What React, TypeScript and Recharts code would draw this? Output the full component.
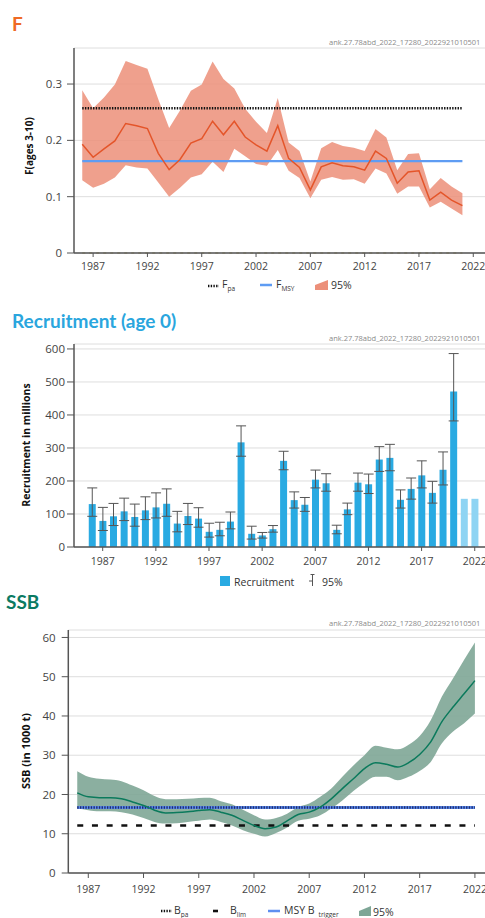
import React from 'react';
import {
  ComposedChart,
  Area,
  Line,
  Bar,
  Cell,
  ErrorBar,
  XAxis,
  YAxis,
  CartesianGrid,
  ReferenceLine,
} from 'recharts';

const FONT = '"Open Sans", "Noto Sans", sans-serif';
const TITLE_FONT = 'Lato, "Open Sans", sans-serif';
const WATERMARK = 'ank.27.78abd_2022_17280_2022921010501';

const xTicks = [1987, 1992, 1997, 2002, 2007, 2012, 2017, 2022];

// ---------- F ----------
const fYears = [1986, 1987, 1988, 1989, 1990, 1991, 1992, 1993, 1994, 1995, 1996, 1997, 1998, 1999, 2000, 2001, 2002, 2003, 2004, 2005, 2006, 2007, 2008, 2009, 2010, 2011, 2012, 2013, 2014, 2015, 2016, 2017, 2018, 2019, 2020, 2021];
const fMean = [0.193, 0.170, 0.185, 0.199, 0.230, 0.226, 0.221, 0.177, 0.148, 0.166, 0.195, 0.203, 0.234, 0.210, 0.234, 0.206, 0.192, 0.181, 0.226, 0.168, 0.152, 0.112, 0.153, 0.160, 0.155, 0.153, 0.147, 0.181, 0.168, 0.124, 0.144, 0.146, 0.094, 0.108, 0.094, 0.084];
const fHigh = [0.289, 0.257, 0.276, 0.299, 0.341, 0.334, 0.327, 0.273, 0.222, 0.253, 0.288, 0.299, 0.340, 0.309, 0.292, 0.256, 0.233, 0.213, 0.275, 0.196, 0.181, 0.127, 0.186, 0.197, 0.190, 0.187, 0.181, 0.220, 0.205, 0.147, 0.176, 0.177, 0.113, 0.133, 0.118, 0.106];
const fLow = [0.129, 0.116, 0.123, 0.134, 0.156, 0.152, 0.150, 0.125, 0.100, 0.116, 0.134, 0.140, 0.162, 0.144, 0.185, 0.172, 0.158, 0.155, 0.183, 0.146, 0.133, 0.097, 0.130, 0.135, 0.130, 0.131, 0.123, 0.150, 0.141, 0.105, 0.118, 0.118, 0.081, 0.091, 0.079, 0.067];
const fTicks = [0, 0.1, 0.2, 0.3];
const F_PA = 0.257;
const F_MSY = 0.163;

// ---------- Recruitment ----------
const rYears = [1986, 1987, 1988, 1989, 1990, 1991, 1992, 1993, 1994, 1995, 1996, 1997, 1998, 1999, 2000, 2001, 2002, 2003, 2004, 2005, 2006, 2007, 2008, 2009, 2010, 2011, 2012, 2013, 2014, 2015, 2016, 2017, 2018, 2019, 2020, 2021, 2022];
const rValue = [130, 79, 93, 108, 91, 111, 120, 131, 71, 94, 86, 46, 52, 77, 317, 40, 35, 54, 261, 142, 128, 204, 193, 52, 114, 195, 190, 265, 270, 143, 176, 217, 164, 234, 471, 146, 146];
const rHigh = [179, 120, 132, 148, 130, 152, 164, 176, 108, 132, 119, 72, 75, 106, 367, 63, 44, 65, 290, 167, 150, 233, 222, 66, 133, 224, 221, 304, 311, 173, 209, 261, 199, 288, 586, null, null];
const rLow = [93, 50, 65, 80, 63, 83, 88, 93, 46, 68, 60, 30, 34, 55, 275, 24, 27, 45, 234, 118, 108, 179, 169, 40, 98, 169, 162, 229, 231, 118, 145, 179, 133, 188, 382, null, null];
const rLightYears = [2021, 2022];
const rTicks = [0, 100, 200, 300, 400, 500, 600];

// ---------- SSB ----------
const sYears = [1986, 1987, 1988, 1989, 1990, 1991, 1992, 1993, 1994, 1995, 1996, 1997, 1998, 1999, 2000, 2001, 2002, 2003, 2004, 2005, 2006, 2007, 2008, 2009, 2010, 2011, 2012, 2013, 2014, 2015, 2016, 2017, 2018, 2019, 2020, 2021, 2022];
const sMean = [20.4, 19.4, 19.2, 19.2, 18.9, 18.1, 17.2, 16.0, 15.3, 15.4, 15.6, 15.9, 16.1, 15.5, 14.7, 13.4, 12.1, 11.3, 11.7, 13.3, 14.9, 15.5, 16.8, 18.9, 21.5, 24.0, 26.6, 28.1, 27.7, 27.0, 28.1, 30.2, 33.4, 38.5, 42.2, 45.6, 49.0];
const sHigh = [25.9, 24.5, 24.0, 23.8, 23.4, 22.3, 21.1, 19.6, 18.8, 18.8, 18.9, 19.1, 19.2, 18.3, 17.5, 16.1, 14.7, 13.6, 14.0, 15.1, 16.8, 17.7, 19.4, 21.5, 24.5, 27.4, 30.0, 32.4, 31.9, 31.5, 32.7, 34.9, 38.9, 44.9, 49.5, 54.2, 58.7];
const sLow = [16.4, 16.0, 15.7, 15.7, 15.5, 14.9, 14.0, 13.0, 12.6, 12.7, 13.0, 13.3, 13.6, 13.0, 12.1, 10.9, 10.0, 9.3, 10.2, 11.6, 13.3, 13.8, 14.7, 16.4, 18.5, 20.9, 23.0, 24.5, 24.5, 23.6, 24.5, 26.0, 28.3, 33.0, 36.0, 38.1, 40.6];
const sTicks = [0, 10, 20, 30, 40, 50, 60];
const B_PA = 16.7;
const B_LIM = 12.1;
const MSY_BTRIGGER = 16.7;

const fData = fYears.map((year, i) => ({ year, f: fMean[i], band: [fLow[i], fHigh[i]] }));
const rData = rYears.map((year, i) => ({
  year,
  rec: rValue[i],
  err: rHigh[i] == null || rLow[i] == null ? null : [rValue[i] - (rLow[i] as number), (rHigh[i] as number) - rValue[i]],
}));
const sData = sYears.map((year, i) => ({ year, ssb: sMean[i], band: [sLow[i], sHigh[i]] }));

const AXIS = { stroke: '#555', strokeWidth: 1.5 };
const xTickStyle = { fontSize: 10.5, fill: '#444', fontFamily: FONT };
const yTickStyle = { fontSize: 11.5, fill: '#444', fontFamily: FONT };

const abs = (left: number, top: number, extra: React.CSSProperties = {}): React.CSSProperties => ({
  position: 'absolute',
  left,
  top,
  ...extra,
});

const Title = ({ left, top, color, text }: { left: number; top: number; color: string; text: string }) => (
  <div style={abs(left, top, { fontFamily: TITLE_FONT, fontWeight: 700, fontSize: 19, lineHeight: '19px', color, whiteSpace: 'nowrap' })}>{text}</div>
);

const Watermark = ({ top }: { top: number }) => (
  <div style={abs(329, top, { fontFamily: FONT, fontSize: 7.5, lineHeight: '8px', color: '#8a8a8a', whiteSpace: 'nowrap' })}>{WATERMARK}</div>
);

const YLabel = ({ cx, cy, text, size = 10.5 }: { cx: number; cy: number; text: string; size?: number }) => (
  <div
    style={abs(cx, cy, {
      transform: 'translate(-50%, -50%) rotate(-90deg)',
      fontFamily: FONT,
      fontWeight: 700,
      fontSize: size,
      color: '#111',
      whiteSpace: 'nowrap',
    })}
  >
    {text}
  </div>
);

const LegendLabel = ({ left, cy, main, sub, subGap = 0 }: { left: number; cy: number; main: string; sub?: string; subGap?: number }) => (
  <div style={abs(left, cy, { transform: 'translateY(-50%)', fontFamily: FONT, fontSize: 10.5, color: '#333', whiteSpace: 'nowrap', lineHeight: '14px' })}>
    {main}
    {sub ? <sub style={{ fontSize: 6.5, marginLeft: subGap, verticalAlign: -3 }}>{sub}</sub> : null}
  </div>
);

const Icon = ({ left, cy, w, h, children }: { left: number; cy: number; w: number; h: number; children: React.ReactNode }) => (
  <svg width={w} height={h} style={abs(left, cy - h / 2, { overflow: 'visible' })}>
    {children}
  </svg>
);

export default function App() {
  return (
    <div style={{ position: 'absolute', left: 0, top: 0, width: 485, height: 918, overflow: 'hidden', background: '#fff', fontFamily: FONT }}>
      {/* ---------- F panel ---------- */}
      <Title left={12} top={14} color="#ef6a24" text="F" />
      <Watermark top={38} />
      <div style={abs(0, 0)}>
        <ComposedChart width={495} height={290} data={fData} margin={{ top: 48, right: 0, bottom: 0, left: 0 }}>
          <CartesianGrid vertical={false} stroke="#dedede" />
          <XAxis
            dataKey="year"
            type="number"
            domain={[1985.24, 2024]}
            allowDataOverflow
            ticks={xTicks}
            interval={0}
            height={37}
            tickSize={4}
            tickMargin={6}
            tick={xTickStyle}
            axisLine={AXIS}
            tickLine={{ stroke: '#555' }}
          />
          <XAxis xAxisId="top" orientation="top" type="number" domain={[1985.24, 2024]} allowDataOverflow height={0} tick={false} tickLine={false} axisLine={AXIS} />
          <YAxis
            type="number"
            domain={[0, 0.364]}
            allowDataOverflow
            ticks={fTicks}
            interval={0}
            width={74}
            tickSize={7}
            tickMargin={5}
            tick={yTickStyle}
            tickFormatter={(v: number) => (v === 0 ? '0' : String(v))}
            axisLine={AXIS}
            tickLine={{ stroke: '#555' }}
          />
          <Area dataKey="band" type="linear" fill="#ec8f79" fillOpacity={0.85} stroke="none" isAnimationActive={false} />
          <ReferenceLine segment={[{ x: 1986, y: 0 }, { x: 2021, y: 0 }]} stroke="#b8aa60" strokeWidth={1} strokeDasharray="3 4" />
          <ReferenceLine segment={[{ x: 1986, y: F_MSY }, { x: 2021, y: F_MSY }]} stroke="#5e9cf3" strokeWidth={2.3} />
          <ReferenceLine segment={[{ x: 1986, y: F_PA }, { x: 2021, y: F_PA }]} stroke="#111" strokeWidth={2.6} strokeDasharray="1.4 1.3" />
          <Line dataKey="f" type="linear" stroke="#e4552a" strokeWidth={1.5} dot={false} isAnimationActive={false} />
        </ComposedChart>
      </div>
      <YLabel cx={28.5} cy={146} text="F(ages 3-10)" size={10} />
      <Icon left={208} cy={286} w={11} h={4}>
        <line x1={0} y1={2} x2={11} y2={2} stroke="#111" strokeWidth={2.4} strokeDasharray="1.4 1.3" />
      </Icon>
      <LegendLabel left={222} cy={286} main="F" sub="pa" />
      <Icon left={260} cy={285} w={12} h={4}>
        <line x1={0} y1={2} x2={12} y2={2} stroke="#5e9cf3" strokeWidth={2.5} />
      </Icon>
      <LegendLabel left={276} cy={286} main="F" sub="MSY" />
      <Icon left={315} cy={285} w={13} h={10}>
        <polygon points="0,5 13,0 13,10 0,10" fill="#ec8f79" />
      </Icon>
      <LegendLabel left={331} cy={285} main="95%" />

      {/* ---------- Recruitment panel ---------- */}
      <Title left={12} top={311} color="#2aa6de" text="Recruitment (age 0)" />
      <Watermark top={334} />
      <div style={abs(0, 300)}>
        <ComposedChart width={496} height={277} data={rData} margin={{ top: 44, right: 0, bottom: 0, left: 0 }}>
          <CartesianGrid vertical={false} stroke="#dedede" />
          <XAxis
            dataKey="year"
            type="number"
            domain={[1984.3, 2024]}
            allowDataOverflow
            ticks={xTicks}
            interval={0}
            height={30}
            tickSize={4}
            tickMargin={7}
            tick={xTickStyle}
            axisLine={AXIS}
            tickLine={{ stroke: '#555' }}
          />
          <XAxis xAxisId="top" orientation="top" type="number" domain={[1984.3, 2024]} allowDataOverflow height={0} tick={false} tickLine={false} axisLine={AXIS} />
          <YAxis
            type="number"
            domain={[0, 615]}
            allowDataOverflow
            ticks={rTicks}
            interval={0}
            width={74}
            tickSize={7}
            tickMargin={2}
            tick={yTickStyle}
            axisLine={AXIS}
            tickLine={{ stroke: '#555' }}
          />
          <Bar dataKey="rec" barSize={7} isAnimationActive={false}>
            {rData.map((d) => (
              <Cell key={d.year} fill={rLightYears.includes(d.year) ? '#8fd4f3' : '#29aae2'} />
            ))}
            <ErrorBar dataKey="err" width={5} stroke="#555" strokeWidth={1} direction="y" isAnimationActive={false} />
          </Bar>
        </ComposedChart>
      </div>
      <YLabel cx={26} cy={445} text="Recruitment in millions" size={10.5} />
      <Icon left={220} cy={581} w={10} h={10}>
        <rect x={0} y={0} width={10} height={10} fill="#29aae2" />
      </Icon>
      <LegendLabel left={234} cy={582} main="Recruitment" />
      <Icon left={308} cy={580} w={8} h={12}>
        <line x1={4.5} y1={0} x2={4.5} y2={12} stroke="#555" strokeWidth={1} />
        <line x1={2.5} y1={0.5} x2={6.5} y2={0.5} stroke="#555" strokeWidth={1} />
        <line x1={1} y1={7} x2={4.5} y2={7} stroke="#555" strokeWidth={1} />
      </Icon>
      <LegendLabel left={322} cy={582} main="95%" />

      {/* ---------- SSB panel ---------- */}
      <Title left={6} top={592} color="#0b7a62" text="SSB" />
      <Watermark top={619} />
      <div style={abs(0, 590)}>
        <ComposedChart width={497} height={323} data={sData} margin={{ top: 40, right: 0, bottom: 0, left: 0 }}>
          <CartesianGrid vertical={false} stroke="#dedede" />
          <XAxis
            dataKey="year"
            type="number"
            domain={[1985.19, 2024]}
            allowDataOverflow
            ticks={xTicks}
            interval={0}
            height={40}
            tickSize={5}
            tickMargin={8}
            tick={xTickStyle}
            axisLine={AXIS}
            tickLine={{ stroke: '#555' }}
          />
          <XAxis xAxisId="top" orientation="top" type="number" domain={[1985.19, 2024]} allowDataOverflow height={0} tick={false} tickLine={false} axisLine={AXIS} />
          <YAxis
            type="number"
            domain={[0, 61.9]}
            allowDataOverflow
            ticks={sTicks}
            interval={0}
            width={68.3}
            tickSize={6.6}
            tickMargin={6}
            tick={yTickStyle}
            axisLine={AXIS}
            tickLine={{ stroke: '#555' }}
          />
          <Area dataKey="band" type="monotone" fill="#7ea696" fillOpacity={0.9} stroke="none" isAnimationActive={false} />
          <ReferenceLine segment={[{ x: 1986, y: B_LIM }, { x: 2022, y: B_LIM }]} stroke="#111" strokeWidth={2.6} strokeDasharray="6 8.7" />
          <ReferenceLine segment={[{ x: 1986, y: MSY_BTRIGGER }, { x: 2022, y: MSY_BTRIGGER }]} stroke="#5e8ff0" strokeWidth={3} />
          <ReferenceLine segment={[{ x: 1986, y: B_PA }, { x: 2022, y: B_PA }]} stroke="#1d2a6e" strokeWidth={2.4} strokeDasharray="1.4 1.3" />
          <Line dataKey="ssb" type="monotone" stroke="#0b7a5c" strokeWidth={1.5} dot={false} isAnimationActive={false} />
        </ComposedChart>
      </div>
      <YLabel cx={24.5} cy={751} text="SSB (in 1000 t)" size={11} />
      <Icon left={161} cy={911} w={11} h={4}>
        <line x1={0} y1={2} x2={11} y2={2} stroke="#111" strokeWidth={2.4} strokeDasharray="1.4 1.3" />
      </Icon>
      <LegendLabel left={174} cy={912} main="B" sub="pa" />
      <Icon left={213} cy={911} w={5} h={4}>
        <line x1={0} y1={2} x2={5} y2={2} stroke="#111" strokeWidth={2.6} />
      </Icon>
      <LegendLabel left={230} cy={912} main="B" sub="lim" />
      <Icon left={268} cy={911} w={12} h={4}>
        <line x1={0} y1={2} x2={12} y2={2} stroke="#5e8ff0" strokeWidth={2.5} />
      </Icon>
      <LegendLabel left={284} cy={912} main="MSY B" sub="trigger" subGap={4} />
      <Icon left={359} cy={911} w={12} h={10}>
        <polygon points="0,5 12,0 12,10 0,10" fill="#7ea696" />
      </Icon>
      <LegendLabel left={373} cy={912} main="95%" />
    </div>
  );
}
